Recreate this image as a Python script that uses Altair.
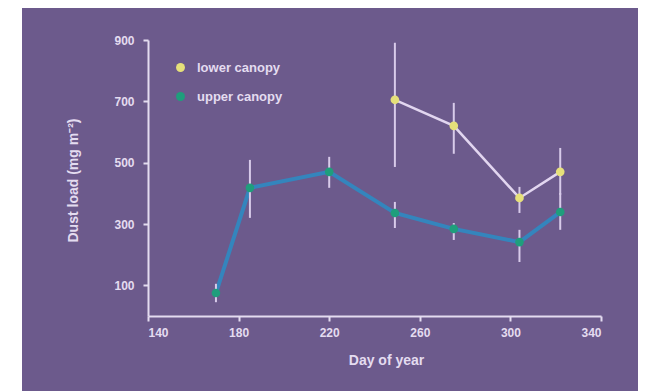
import altair as alt
import pandas as pd

# ---- data ----
series = ["lower canopy", "upper canopy"]

days_upper = [170, 185, 220, 249, 275, 304, 322]
load_upper = [75, 418, 470, 336, 284, 241, 339]
upper_lo = [45, 320, 418, 287, 248, 176, 281]
upper_hi = [105, 509, 519, 372, 303, 281, 401]

days_lower = [249, 275, 304, 322]
load_lower = [705, 620, 385, 470]
lower_lo = [486, 529, 336, 395]
lower_hi = [891, 695, 421, 548]

x_ticks = [140, 180, 220, 260, 300, 340]
y_ticks = [100, 200, 300, 400, 500, 600, 700, 800, 900]

point_colors = ["#e6e07a", "#1f9e7c"]
line_colors = ["#e2d6f0", "#3485bd"]

BG = "#6c5a8c"
FG = "#e4dcf0"
FONT = "Liberation Sans"

rows = []
for d, v, lo, hi in zip(days_lower, load_lower, lower_lo, lower_hi):
    rows.append({"series": series[0], "day": d, "load": v, "lo": lo, "hi": hi})
for d, v, lo, hi in zip(days_upper, load_upper, upper_lo, upper_hi):
    rows.append({"series": series[1], "day": d, "load": v, "lo": lo, "hi": hi})
df = pd.DataFrame(rows)

x = alt.X(
    "day:Q",
    scale=alt.Scale(domain=[140, 340], nice=False, zero=False),
    axis=alt.Axis(
        values=x_ticks,
        title="Day of year",
        labelPadding=6,
        titleX=238,
        titleY=44,
        titleAlign="center",
        titleBaseline="middle",
    ),
)
y = alt.Y(
    "load:Q",
    scale=alt.Scale(domain=[0, 900], nice=False),
    axis=alt.Axis(
        values=y_ticks,
        labelExpr="datum.value % 200 == 100 ? datum.label : ''",
        title="Dust load (mg m⁻²)",
        labelPadding=9,
        titleX=-75,
        titleY=140,
        titleAlign="center",
        titleBaseline="middle",
    ),
)

base = alt.Chart(df)

line_lower = base.transform_filter(alt.datum.series == series[0]).mark_line(
    color=line_colors[0], strokeWidth=2.5
).encode(x=x, y=y)

line_upper = base.transform_filter(alt.datum.series == series[1]).mark_line(
    color=line_colors[1], strokeWidth=4
).encode(x=x, y=y)

errbars = base.mark_rule(color="#d8cbea", strokeWidth=2).encode(
    x=x, y=alt.Y("lo:Q"), y2="hi:Q"
)

points = base.mark_circle(size=75, opacity=1, strokeWidth=0).encode(
    x=x,
    y=y,
    fill=alt.Fill(
        "series:N",
        scale=alt.Scale(domain=series, range=point_colors),
        legend=alt.Legend(
            orient="none",
            legendX=26,
            legendY=21,
            title=None,
            labelFont=FONT,
            labelFontSize=13,
            labelFontWeight="bold",
            labelColor=FG,
            symbolType="circle",
            symbolSize=80,
            symbolStrokeWidth=0,
            rowPadding=15,
            labelOffset=10,
            padding=0,
        ),
    ),
)

# white strip at the left edge of the picture
strip = alt.Chart(pd.DataFrame({"a": [0]})).mark_rect(color="white").encode(
    x=alt.value(-140), x2=alt.value(-126), y=alt.value(-40), y2=alt.value(400)
)

chart = (
    alt.layer(strip, line_upper, line_lower, errbars, points)
    .properties(
        width=453,
        height=276,
        autosize=alt.AutoSizeParams(type="none"),
        padding={"left": 140, "top": 32, "right": 37, "bottom": 75},
        background=BG,
    )
    .configure_view(stroke=None)
    .configure_axis(
        grid=False,
        domainColor=FG,
        domainWidth=2,
        tickColor=FG,
        tickWidth=2,
        tickSize=5,
        labelColor=FG,
        labelFont=FONT,
        labelFontSize=12,
        labelFontWeight="bold",
        titleColor=FG,
        titleFont=FONT,
        titleFontSize=14,
        titleFontWeight="bold",
    )
)

chart.save("out.html", embed_options={"renderer": "svg", "actions": False})
